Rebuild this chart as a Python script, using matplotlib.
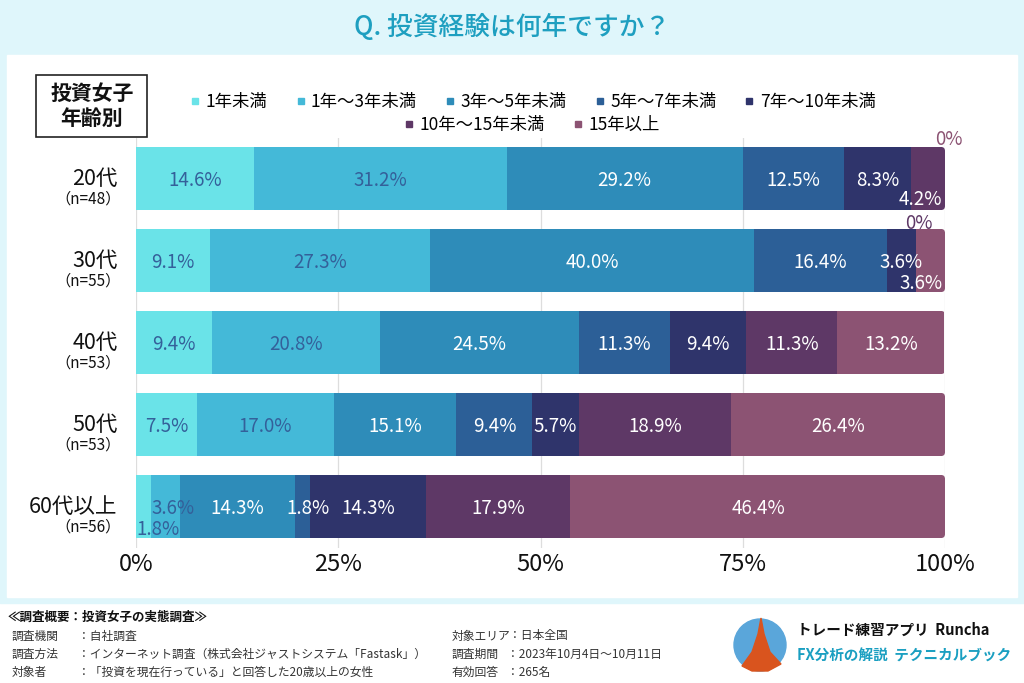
import numpy as np
import matplotlib.pyplot as plt
from matplotlib.patches import Rectangle, FancyBboxPatch, Circle, Polygon
from matplotlib.lines import Line2D

plt.rcParams['font.family'] = ['Noto Sans CJK JP', 'DejaVu Sans']

# データ
groups = ['20代', '30代', '40代', '50代', '60代以上']
counts = ['（n=48）', '（n=55）', '（n=53）', '（n=53）', '（n=56）']
periods = ['1年未満', '1年～3年未満', '3年～5年未満', '5年～7年未満',
           '7年～10年未満', '10年～15年未満', '15年以上']
v20 = [14.6, 31.2, 29.2, 12.5, 8.3, 4.2, 0.0]
v30 = [9.1, 27.3, 40.0, 16.4, 3.6, 0.0, 3.6]
v40 = [9.4, 20.8, 24.5, 11.3, 9.4, 11.3, 13.2]
v50 = [7.5, 17.0, 15.1, 9.4, 5.7, 18.9, 26.4]
v60 = [1.8, 3.6, 14.3, 1.8, 14.3, 17.9, 46.4]
ticks = [0, 25, 50, 75, 100]

colors = ['#6ae3e8', '#44b9d8', '#2e8cb9', '#2c5f97', '#2f346b', '#5e3866', '#8c5373']
dark_text = '#34609a'

# 小さい値のラベル位置 (x[%], y方向のずれ, 揃え)
special = {
    (0, 5): (99.6, 0.24, 'right'),
    (0, 6): (100.5, -0.49, 'center'),
    (1, 5): (96.8, -0.47, 'center'),
    (1, 6): (99.7, 0.26, 'right'),
    (4, 0): (0.0, 0.26, 'left'),
    (4, 1): (4.6, 0.0, 'center'),
    (4, 3): (21.2, 0.0, 'center'),
}

data = np.array([v20, v30, v40, v50, v60])
cum = np.cumsum(data, axis=1) - data
rows = np.arange(len(groups))

fig = plt.figure(figsize=(10.24, 6.83), dpi=100)

# 背景 (ピクセル座標)
bg = fig.add_axes([0, 0, 1, 1], zorder=0)
bg.set_xlim(0, 1024)
bg.set_ylim(683, 0)
bg.axis('off')
bg.add_patch(Rectangle((0, 0), 1024, 603, color='#dff6fb'))
bg.add_patch(Rectangle((7, 55), 1010, 542, color='white'))

bg.text(512, 27, 'Q. 投資経験は何年ですか？', ha='center', va='center',
        fontsize=18.5, color='#1e9fc0', fontweight='medium')

bg.add_patch(Rectangle((36, 75), 111, 62, fill=False, ec='#222222', lw=1.2))
bg.text(92, 106, '投資女子\n年齢別', ha='center', va='center', fontsize=15,
        fontweight='bold', linespacing=1.25, color='#111111')

# 本体
ax = fig.add_axes([136 / 1024, 1 - 547.5 / 683, 809 / 1024, 410 / 683], zorder=1)
ax.set_facecolor('none')
ax.set_xlim(0, 100)
ax.set_ylim(len(groups) - 0.5, -0.5)
bar_h = 0.77

clips = []
for i in rows:
    clip = FancyBboxPatch((-10, i - bar_h / 2), 110, bar_h,
                          boxstyle='round,pad=0,rounding_size=0.5',
                          mutation_aspect=0.098, transform=ax.transData)
    clips.append(clip)

for j in range(len(periods)):
    bars = ax.barh(rows, data[:, j], left=cum[:, j], height=bar_h,
                   color=colors[j], zorder=2)
    for i, b in enumerate(bars):
        b.set_clip_path(clips[i])

for i in rows:
    for j in range(len(periods)):
        val = data[i, j]
        txt = '0%' if val == 0 else f'{val:.1f}%'
        col = dark_text if j < 2 else 'white'
        if (i, j) in special:
            x, dy, ha = special[(i, j)]
            if val == 0:
                col = colors[j]
        else:
            x, dy, ha = cum[i, j] + val / 2, 0.0, 'center'
        ax.text(x, i + dy + 0.02, txt, ha=ha, va='center', fontsize=13.5,
                color=col, zorder=3, clip_on=False)
    ax.text(-2.3, i + 0.01, groups[i], ha='right', va='center', fontsize=15.5,
            color='#111111', clip_on=False)
    ax.text(-1.9, i + 0.25, counts[i], ha='right', va='center', fontsize=11,
            color='#111111', clip_on=False)

ax.set_xticks(ticks)
ax.set_xticklabels([f'{t}%' for t in ticks], fontsize=17, color='#111111')
ax.set_yticks([])
ax.tick_params(axis='x', length=0, pad=4)
for s in ax.spines.values():
    s.set_visible(False)
ax.grid(axis='x', color='#dddddd', lw=0.9, zorder=0)
ax.set_axisbelow(True)

# 凡例
handles = [Line2D([], [], marker='s', ls='', color=c, markersize=5) for c in colors]
leg_kw = dict(loc='center', frameon=False, fontsize=12.5, handletextpad=0.2,
              columnspacing=1.5, handlelength=0.8, borderpad=0)
fig.legend(handles[:5], periods[:5], ncol=5,
           bbox_to_anchor=(532 / 1024, 1 - 102 / 683), **leg_kw)
fig.legend(handles[5:], periods[5:], ncol=2,
           bbox_to_anchor=(531 / 1024, 1 - 125 / 683), **leg_kw)

# 調査概要
foot = '#333333'
bg.text(8, 617, '≪調査概要：投資女子の実態調査≫', ha='left', va='center',
        fontsize=9, fontweight='bold', color='#111111')
left_rows = [('調査機関', '：自社調査'),
             ('調査方法', '：インターネット調査（株式会社ジャストシステム「Fastask」）'),
             ('対象者', '：「投資を現在行っている」と回答した20歳以上の女性')]
right_rows = [('対象エリア', '：日本全国'),
              ('調査期間', '：2023年10月4日～10月11日'),
              ('有効回答', '：265名')]
for k, (a, b) in enumerate(left_rows):
    y = 636 + k * 18
    bg.text(12, y, a, ha='left', va='center', fontsize=8.5, color=foot)
    bg.text(78, y, b, ha='left', va='center', fontsize=8.5, color=foot)
for k, (a, b) in enumerate(right_rows):
    y = 636 + k * 18
    bg.text(452, y, a, ha='left', va='center', fontsize=8.5, color=foot)
    bg.text(452 + (len(a) * 11.5 if k == 0 else 55), y, b, ha='left',
            va='center', fontsize=8.5, color=foot)

# ロゴ
bg.add_patch(Circle((760, 645), 26, color='#5aa6da'))
bg.add_patch(Polygon([(742, 666), (752, 652), (758, 634), (761, 618),
                      (764, 634), (770, 652), (781, 664), (768, 671), (752, 671)],
                     closed=True, color='#d9541e'))
bg.text(797, 630, 'トレード練習アプリ  Runcha', ha='left', va='center',
        fontsize=10.5, fontweight='bold', color='#111111')
bg.text(797, 656, 'FX分析の解説  テクニカルブック', ha='left', va='center',
        fontsize=10.5, fontweight='bold', color='#1a9fc1')

fig.savefig('out.png', dpi=100)
